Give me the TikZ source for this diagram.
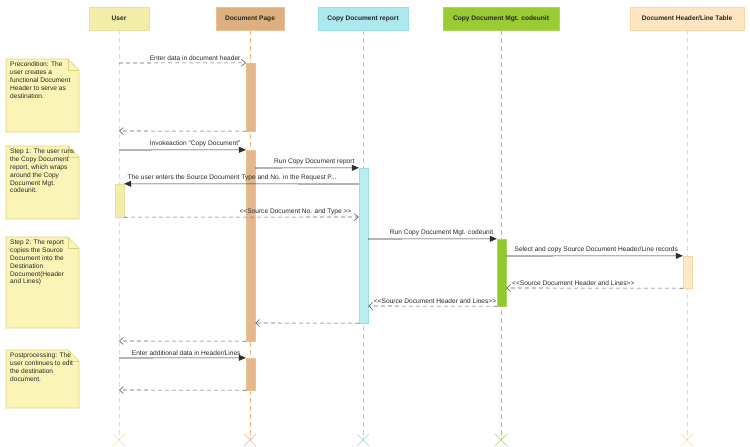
\documentclass[tikz,border=0pt]{standalone}
\usepackage{fontspec}
\setmainfont{Liberation Sans}
\usetikzlibrary{arrows.meta}
\definecolor{userhdr}{RGB}{242,238,170}
\definecolor{userbd}{RGB}{232,226,150}
\definecolor{userline}{RGB}{238,226,160}
\definecolor{pagehdr}{RGB}{222,176,128}
\definecolor{pagebd}{RGB}{232,194,150}
\definecolor{pageline}{RGB}{236,184,140}
\definecolor{pageact}{RGB}{228,184,138}
\definecolor{rephdr}{RGB}{172,232,238}
\definecolor{repbd}{RGB}{150,222,232}
\definecolor{repline}{RGB}{150,218,228}
\definecolor{repact}{RGB}{182,238,242}
\definecolor{cuhdr}{RGB}{153,204,51}
\definecolor{cubd}{RGB}{170,214,90}
\definecolor{culine}{RGB}{165,212,85}
\definecolor{cuact}{RGB}{145,200,45}
\definecolor{tblhdr}{RGB}{255,230,192}
\definecolor{tblbd}{RGB}{252,214,168}
\definecolor{tblline}{RGB}{255,214,170}
\definecolor{tblact}{RGB}{255,232,200}
\definecolor{notefill}{RGB}{250,245,182}
\definecolor{notebd}{RGB}{222,212,120}
\definecolor{msgc}{RGB}{45,45,45}
\definecolor{retc}{RGB}{95,95,95}
\newcommand\umlnote[5]{%
  \filldraw[fill=notefill, draw=notebd, line width=0.6pt]
    (#1,#2) -- (#3-11,#2) -- (#3,#2+11) -- (#3,#4) -- (#1,#4) -- cycle;
  \draw[notebd, line width=0.6pt] (#3-11,#2) -- (#3-11,#2+11) -- (#3,#2+11);
  \node[anchor=north west, align=left, inner sep=0pt, text=black!85,
        font=\fontsize{6.6}{7.8}\selectfont] at (#1+4,#2+3) {#5};
}
\begin{document}
\begin{tikzpicture}[x=1pt,y=-1pt,
  hdr/.style={draw, line width=0.6pt, minimum height=23pt, inner sep=0pt,
              font=\fontsize{6.6}{8}\selectfont\bfseries, text=black!85},
  life/.style={line width=0.8pt, dash pattern=on 5pt off 3pt},
  xend/.style={line width=0.6pt},
  act/.style={draw, line width=0.4pt, minimum width=9pt, inner sep=0pt},
  call/.style={draw=msgc, line width=0.6pt, -{Triangle[length=7pt,width=6pt]}},
  ret/.style={draw=retc, line width=0.6pt, dash pattern=on 4pt off 3pt,
              -{Straight Barb[length=4pt,width=7pt]}},
  lbl/.style={above, inner sep=2.3pt, text=black!85,
              font=\fontsize{6.6}{7.8}\selectfont}]
\useasboundingbox (0,0) rectangle (750,447);

% headers
\node[hdr, fill=userhdr, draw=userbd, minimum width=60pt] (user) at (119,18.5) {User};
\node[hdr, fill=pagehdr, draw=pagebd, minimum width=68pt] (page) at (250,18.5) {Document Page};
\node[hdr, fill=rephdr, draw=repbd, minimum width=90pt] (rep) at (363,18.5) {Copy Document report};
\node[hdr, fill=cuhdr, draw=cubd, minimum width=116pt] (cu) at (501,18.5) {Copy Document Mgt. codeunit};
\node[hdr, fill=tblhdr, draw=tblbd, minimum width=114pt] (tbl) at (687,18.5) {Document Header/Line Table};

% lifeline ends
\coordinate (userE) at (119,440);
\coordinate (pageE) at (250,440);
\coordinate (repE) at (363,440);
\coordinate (cuE) at (501,440);
\coordinate (tblE) at (687,440);

\draw[life, userline] (user.south) -- (userE);
\draw[life, pageline] (page.south) -- (pageE);
\draw[life, repline] (rep.south) -- (repE);
\draw[life, culine] (cu.south) -- (cuE);
\draw[life, tblline] (tbl.south) -- (tblE);

\foreach \c/\col in {userE/userline, pageE/pageline, repE/repline, cuE/culine, tblE/tblline}{
  \draw[xend, \col] ([shift={(-6,-6)}]\c) -- ([shift={(6,6)}]\c)
                    ([shift={(-6,6)}]\c) -- ([shift={(6,-6)}]\c);
}

% notes
\umlnote{6}{59}{79}{132}{Precondition: The\\user creates a\\functional Document\\Header to serve as\\destination.}
\umlnote{6}{146}{79}{219}{Step 1: The user runs\\the Copy Document\\report, which wraps\\around the Copy\\Document Mgt.\\codeunit.}
\umlnote{6}{237}{79}{328}{Step 2: The report\\copies the Source\\Document into the\\Destination\\Document(Header\\and Lines)}
\umlnote{6}{350}{79}{408}{Postprocessing: The\\user continues to edit\\the destination\\document.}

% activations
\node[act, fill=pageact, draw=pagebd, minimum height=68pt] (a1) at (250.5,97) {};
\node[act, fill=pageact, draw=pagebd, minimum height=191pt] (a2) at (250.5,245.5) {};
\node[act, fill=repact, draw=repbd, minimum height=155pt] (a3) at (363.5,245.5) {};
\node[act, fill=userhdr, draw=userbd, minimum height=33pt] (a4) at (119.5,200.5) {};
\node[act, fill=cuact, draw=cubd, minimum height=67pt] (a5) at (501.5,272.5) {};
\node[act, fill=tblact, draw=tblbd, minimum height=32pt] (a6) at (687.5,272) {};
\node[act, fill=pageact, draw=pagebd, minimum height=32pt] (a7) at (250.5,374) {};

% message end points on the user lifeline
\coordinate (u1) at (119,63);
\coordinate (u2) at (119,131);
\coordinate (u3) at (119,150);
\coordinate (u4) at (119,341);
\coordinate (u5) at (119,358);
\coordinate (u6) at (119,390);

% messages
\draw[ret] (u1) -- node[lbl, pos=0.6] {Enter data in document header} (a1.north west);
\draw[ret] (a1.south west) -- (u2);
\draw[call] (u3) -- node[lbl, pos=0.6] {Invokeaction "Copy Document"} (a2.north west);
\draw[call] (a2.east |- 0,168) -- node[lbl, pos=0.57] {Run Copy Document report} (a3.north west);
\draw[call] (a3.west |- 0,184) -- node[lbl, pos=0.54] {The user enters the Source Document Type and No. in the Request P...} (a4.north east);
\draw[ret] (a4.south east) -- node[lbl, pos=0.73] {<{}<Source Document No. and Type >{}>} (a3.west |- 0,217);
\draw[call] (a3.east |- 0,239) -- node[lbl, pos=0.57] {Run Copy Document Mgt. codeunit} (a5.north west);
\draw[call] (a5.east |- 0,256) -- node[lbl, pos=0.51] {Select and copy Source Document Header/Line records} (a6.north west);
\draw[ret] (a6.south west) -- node[lbl, pos=0.62] {<{}<Source Document Header and Lines>{}>} (a5.east |- 0,288);
\draw[ret] (a5.south west) -- node[lbl, pos=0.48] {<{}<Source Document Header and Lines>{}>} (a3.east |- 0,306);
\draw[ret] (a3.south west) -- (a2.east |- 0,323);
\draw[ret] (a2.south west) -- (u4);
\draw[call] (u5) -- node[lbl, pos=0.53] {Enter additional data in Header/Lines} (a7.north west);
\draw[ret] (a7.south west) -- (u6);
\end{tikzpicture}
\end{document}
